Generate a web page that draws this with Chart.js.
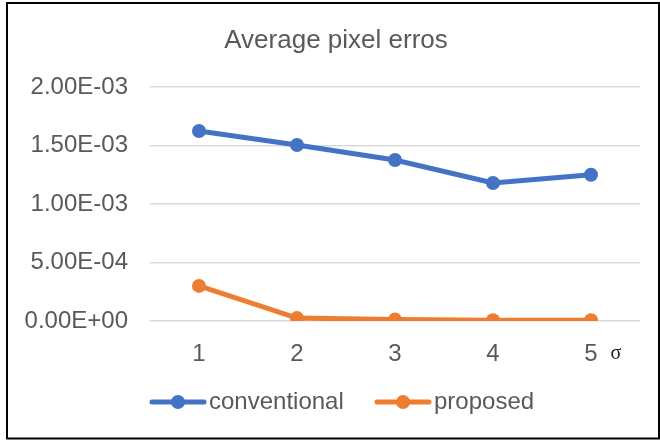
<!DOCTYPE html>
<html>
<head>
<meta charset="utf-8">
<script src="https://cdn.jsdelivr.net/npm/chart.js@4/dist/chart.umd.min.js"></script>
<style>
  html, body { margin: 0; padding: 0; background: #fff; }
  #wrap { width: 660px; height: 440px; position: relative; }
</style>
</head>
<body>
<div id="wrap"><canvas id="c" width="660" height="440"></canvas></div>
<script>
const categories = ['1', '2', '3', '4', '5'];
const conventional = [1.624e-3, 1.504e-3, 1.376e-3, 1.180e-3, 1.250e-3];
const proposed = [3.0e-4, 2.5e-5, 1.2e-5, 6e-6, 6e-6];
const seriesNames = ['conventional', 'proposed'];
const yTicks = [0, 5e-4, 1e-3, 1.5e-3, 2e-3];
const titleText = 'Average pixel erros';
const xAxisUnit = 'σ';

const BLUE = '#4472C4', ORANGE = '#ED7D31', TXT = '#595959';
const FONT = '"Liberation Sans", Arial, sans-serif';

function fmtExp(v) {
  if (v === 0) return '0.00E+00';
  const s = v.toExponential(2).toUpperCase();
  const [m, e] = s.split('E');
  const sign = e[0] === '-' ? '-' : '+';
  const d = e.replace(/[+-]/, '').padStart(2, '0');
  return m + 'E' + sign + d;
}

const decor = {
  id: 'decor',
  afterDraw(chart) {
    const ctx = chart.ctx;
    ctx.save();
    // title
    ctx.fillStyle = TXT;
    ctx.font = '26px ' + FONT;
    ctx.textAlign = 'center';
    ctx.textBaseline = 'middle';
    ctx.fillText(titleText, 336, 41);
    // sigma unit label
    ctx.fillStyle = '#222';
    ctx.font = '20px "Liberation Serif", serif';
    ctx.fillText(xAxisUnit, 616, 354);
    // legend
    const items = [
      { name: seriesNames[0], color: BLUE, x: 150 },
      { name: seriesNames[1], color: ORANGE, x: 375 }
    ];
    const ly = 402;
    items.forEach(it => {
      ctx.strokeStyle = it.color;
      ctx.lineWidth = 5;
      ctx.lineCap = 'round';
      ctx.beginPath();
      ctx.moveTo(it.x + 2, ly);
      ctx.lineTo(it.x + 54, ly);
      ctx.stroke();
      ctx.fillStyle = it.color;
      ctx.beginPath();
      ctx.arc(it.x + 28, ly, 7, 0, Math.PI * 2);
      ctx.fill();
      ctx.fillStyle = TXT;
      ctx.font = '24px ' + FONT;
      ctx.textAlign = 'left';
      ctx.textBaseline = 'middle';
      ctx.fillText(it.name, it.x + 59, ly);
    });
    // frame
    ctx.strokeStyle = '#000';
    ctx.lineWidth = 2;
    ctx.beginPath();
    ctx.moveTo(7, 438.5);
    ctx.lineTo(7, 3);
    ctx.lineTo(659, 3);
    ctx.lineTo(659, 438.5);
    ctx.lineTo(7, 438.5);
    ctx.stroke();
    ctx.restore();
  }
};

new Chart(document.getElementById('c'), {
  type: 'line',
  data: {
    labels: categories,
    datasets: [
      { label: seriesNames[0], data: conventional, borderColor: BLUE, backgroundColor: BLUE,
        borderWidth: 5, pointRadius: 7, pointHoverRadius: 7, pointBackgroundColor: BLUE, pointBorderWidth: 0, tension: 0 },
      { label: seriesNames[1], data: proposed, borderColor: ORANGE, backgroundColor: ORANGE,
        borderWidth: 5, pointRadius: 7, pointHoverRadius: 7, pointBackgroundColor: ORANGE, pointBorderWidth: 0, tension: 0 }
    ]
  },
  options: {
    responsive: false,
    animation: false,
    devicePixelRatio: 1,
    layout: { padding: { left: 0, right: 20, top: 87, bottom: 0 } },
    plugins: {
      legend: { display: false },
      tooltip: { enabled: false },
      title: { display: false }
    },
    scales: {
      x: {
        offset: true,
        grid: { display: false, drawTicks: false },
        border: { display: false },
        ticks: { color: TXT, font: { family: FONT, size: 24 }, padding: 19, maxRotation: 0 },
        afterFit(axis) { axis.height = 119; }
      },
      y: {
        min: 0, max: 2e-3,
        afterBuildTicks(axis) { axis.ticks = yTicks.map(v => ({ value: v })); },
        grid: { color: '#D9D9D9', lineWidth: 1.5, drawTicks: false },
        border: { display: false },
        ticks: { color: TXT, font: { family: FONT, size: 24 }, padding: 22, callback: v => fmtExp(v) },
        afterFit(axis) { axis.width = 150; }
      }
    }
  },
  plugins: [decor]
});
</script>
</body>
</html>
